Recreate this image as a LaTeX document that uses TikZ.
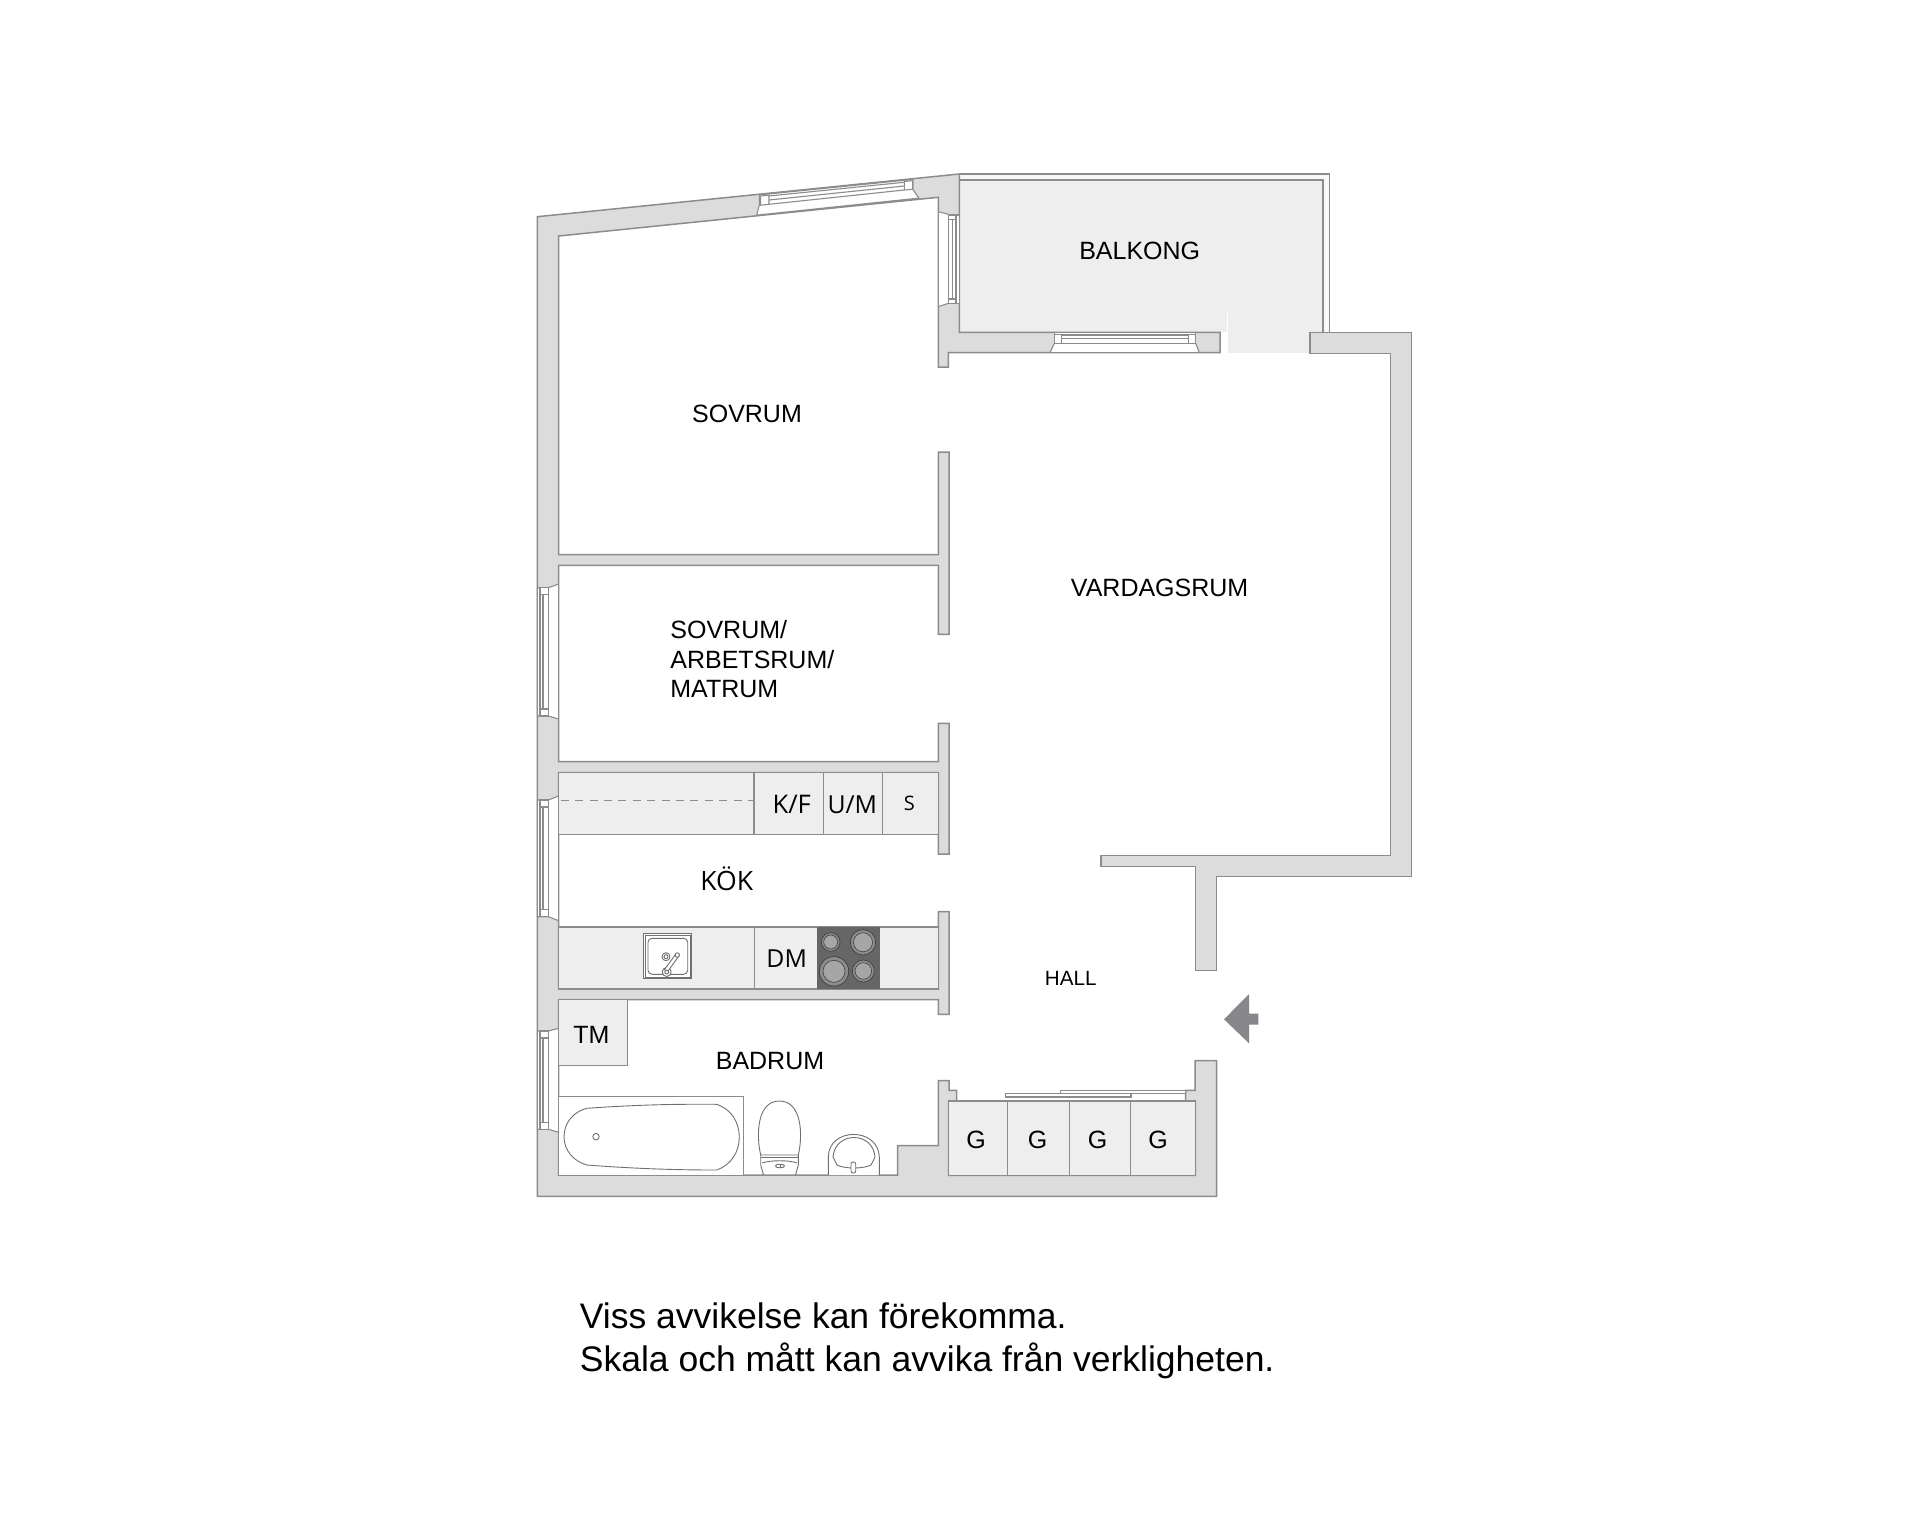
\documentclass[tikz,border=0pt]{standalone}
\usepackage{fontspec}
\setmainfont{Liberation Sans}
\newfontfamily\opensans{Open Sans}
\definecolor{wallfill}{HTML}{DCDCDC}
\definecolor{benchfill}{HTML}{EEEEEE}
\definecolor{linegray}{HTML}{8C8C8C}
\definecolor{hobfill}{HTML}{666666}
\definecolor{burnerfill}{HTML}{A6A6A6}
\definecolor{arrowfill}{HTML}{87878B}
\tikzset{
  wall/.style={fill=wallfill,draw=linegray,line width=0.75pt,line join=miter},
  bench/.style={fill=benchfill,draw=linegray,line width=0.7pt},
  fixture/.style={draw=linegray!80!black,line width=0.45pt,fill=white},
  winpart/.style={fill=white,draw=linegray,line width=0.55pt},
  winline/.style={draw=linegray,line width=0.55pt},
  lab/.style={inner sep=0pt,anchor=base,text=black,font=\fontsize{12.5}{14}\selectfont},
  labos/.style={lab,font=\opensans\fontsize{12.4}{14}\selectfont},
  labg/.style={lab,font=\fontsize{12.5}{14}\selectfont},
  labnote/.style={inner sep=0pt,anchor=base west,text=black,font=\fontsize{17.75}{20}\selectfont},
}
\newcommand{\sidewindow}[4]{%
  \path[fill=white] (558.7,#1) -- (548.3,#2) -- (537.3,#2) -- (537.3,#3) -- (548.3,#3) -- (558.7,#4) -- cycle;
  \draw[winline] (558.7,#1) -- (548.3,#2) -- (537.3,#2) -- (537.3,#3) -- (548.3,#3) -- (558.7,#4);
  \draw[winline] (558.7,#1) -- (558.7,#4);
  \draw[winpart] (540,#2) rectangle (548.3,#3);
  \draw[winline] (543,#2) -- (543,#3);
  \draw[winpart] (540,#2) rectangle (548.3,{#2+7});
  \draw[winpart] (540,{#3-7}) rectangle (548.3,#3);
}
\begin{document}
\begin{tikzpicture}[x=0.5pt,y=-0.5pt]
\useasboundingbox[fill=white] (0,0) rectangle (1920,1514);
% balcony
\path[fill=benchfill] (959.3,180) rectangle (1323,332.3);
\path[fill=benchfill] (1227.7,313) rectangle (1310,353);
\draw[white,line width=0.4pt] (1227.7,313) -- (1227.7,353);
\draw[fill=white!60!benchfill,draw=linegray,line width=0.75pt] (959.3,174) -- (1329.3,174) -- (1329.3,332.3) -- (1323,332.3) -- (1323,180) -- (959.3,180) -- cycle;
% right wall
\draw[wall] (1310,332.3) -- (1411.7,332.3) -- (1411.7,876.7) -- (1216.7,876.7) -- (1216.7,970.3) -- (1195.3,970.3) -- (1195.3,866.3) -- (1101,866.3) -- (1101,855.7) -- (1390.7,855.7) -- (1390.7,353.3) -- (1310,353.3) -- cycle;
% main walls
\draw[wall] (1220,332.3) -- (959.3,332.3) -- (959.3,174) -- (537.3,216.7) -- (537.3,1196.3) -- (1216.7,1196.3) -- (1216.7,1060.7) -- (1195,1060.7) -- (1195,1090.3) -- (1185.7,1090.3) -- (1185.7,1101) -- (1195.3,1101) -- (1195.3,1175.3) -- (948.7,1175.3) -- (948.7,1101) -- (956.7,1101) -- (956.7,1090.3) -- (949,1090.3) -- (949,1080.7) -- (938.3,1080.7) -- (938.3,1145.7) -- (897.7,1145.7) -- (897.7,1175) -- (558.7,1175) -- (558.7,999.7) -- (938.3,999.7) -- (938.3,1014.3) -- (949,1014.3) -- (949,911.7) -- (938.3,911.7) -- (938.3,989) -- (558.7,989) -- (558.7,772.7) -- (938.3,772.7) -- (938.3,854) -- (949,854) -- (949,723.3) -- (938.3,723.3) -- (938.3,761.7) -- (558.7,761.7) -- (558.7,565.3) -- (938.3,565.3) -- (938.3,634.3) -- (949,634.3) -- (949,452) -- (938.3,452) -- (938.3,554.7) -- (558.7,554.7) -- (558.7,236) -- (938.3,197.3) -- (938.3,367) -- (948.3,367) -- (948.3,352.7) -- (1220,352.7) -- cycle;
% kitchen benches
\draw[bench] (558.7,772.7) rectangle (938.3,834.7);
\draw[bench] (754,772.7) -- (754,834.7) (823.7,772.7) -- (823.7,834.7) (882.3,772.7) -- (882.3,834.7);
\draw[linegray,line width=0.55pt,dash pattern=on 4pt off 3.2pt] (560.7,800.7) -- (753.3,800.7);
\draw[bench] (558.7,927) rectangle (938.3,989);
\draw[bench] (754.3,927) -- (754.3,989);
% hob
\path[fill=hobfill] (817,927) rectangle (879.7,989);
\foreach \cx/\cy/\r in {830.7/942/9.3,863/942.3/12.7,834/971.3/14.7,863.3/971/11}{
  \draw[fill=black!45,draw=black!75,line width=0.35pt] (\cx,\cy) circle ({\r});
  \draw[fill=burnerfill,draw=black!75,line width=0.3pt] (\cx,\cy) circle ({\r*0.75});
}
% kitchen sink
\draw[fixture] (643.3,933.3) rectangle (691.7,978.7);
\draw[fixture] (645,935) rectangle (690,977);
\draw[fixture,rounded corners=2pt] (648,938.3) rectangle (687.7,974.3);
\draw[fixture] (666,956.7) circle (4);
\draw[fixture] (666,956.7) circle (2);
\draw[fixture] (666.7,972) circle (4.5);
\draw[fixture] (666.7,972) circle (2);
\draw[fixture] (664.5,969.5) -- (675.5,954.5) -- (678.5,956.5) -- (668,971) -- cycle;
\draw[fixture] (677.3,955) circle (2.2);
% bathroom storage and tub
\draw[bench] (558.7,999.7) rectangle (627.3,1065.7);
\draw[line width=0.65pt,draw=linegray,fill=white] (558.7,1175) -- (558.7,1096.7) -- (743.7,1096.7) -- (743.7,1175);
\draw[fixture] (586.7,1108.3) .. controls (640,1104.5) and (680,1104) .. (716.7,1104.3) .. controls (731,1109) and (739.3,1122) .. (739.3,1137) .. controls (739.3,1152) and (731,1165) .. (716.7,1170) .. controls (680,1170) and (640,1169) .. (586.7,1165) .. controls (573,1161) and (564,1150) .. (564,1136.7) .. controls (564,1123) and (573,1112) .. (586.7,1108.3) -- cycle;
\draw[fixture] (596,1136.7) circle (3.2);
% toilet
\draw[fixture] (760.7,1155) .. controls (756,1135) and (757,1101) .. (779.3,1101) .. controls (802,1101) and (803,1135) .. (798.3,1155) -- cycle;
\draw[fixture] (760.7,1155) -- (760.7,1165) -- (763.5,1175) (798.3,1155) -- (798.3,1165) -- (795.5,1175);
\draw[fixture] (761,1157.5) -- (798,1157.5);
\draw[fixture] (762,1163) .. controls (770,1160) and (790,1160) .. (797,1163);
\draw[fixture] (780,1166) ellipse (4.5 and 1.8);
\draw[fixture] (780,1164.2) -- (780,1167.8);
% wash basin
\draw[fixture] (828.3,1175) -- (828.3,1156.7) .. controls (829,1127) and (878,1127) .. (879.3,1156.7) -- (879.3,1175);
\draw[fixture,fill=none] (833,1157) .. controls (835,1131) and (873,1131) .. (875,1157);
\draw[fixture,fill=none] (833,1157) -- (837,1165) .. controls (845,1169) and (863,1169) .. (871,1165) -- (875,1157);
\draw[fixture,rounded corners=1pt] (851,1162) rectangle (855.7,1173);
% closets
\draw[bench] (948.7,1101) rectangle (1195.3,1175.3);
\draw[bench] (1007.7,1101) -- (1007.7,1175.3) (1069.3,1101) -- (1069.3,1175.3) (1130.7,1101) -- (1130.7,1175.3);
\draw[winpart] (1060.7,1090.3) rectangle (1185.7,1093.7);
\draw[winpart] (1005.3,1093.5) rectangle (1131,1097);
% left windows
\sidewindow{584}{587.7}{716}{719}
\sidewindow{796}{800}{916.7}{920.7}
\sidewindow{1028.3}{1031}{1129.3}{1132.3}
% top window
\path[fill=white] (759.3,194.7) -- (912.7,179.3) -- (912.7,189.3) -- (919,198.3) -- (756.7,215.3) -- (759.3,205) -- cycle;
\draw[winline] (759.3,194.7) -- (759.3,205) -- (756.7,215.3) (912.7,179.3) -- (912.7,189.3) -- (919,198.3);
\draw[winline] (769,196) -- (904.3,182.3) (769,200) -- (904.3,186) (769,204.3) -- (904.3,190);
\draw[winpart] (760.5,196) -- (769,195.2) -- (769,204.3) -- (760.5,205.2) -- cycle;
\draw[winpart] (904.3,181.5) -- (912.7,180.7) -- (912.7,189.3) -- (904.3,190) -- cycle;
\draw[line width=0.75pt,draw=linegray] (756.7,215.3) -- (919,198.3);
\draw[line width=0.75pt,draw=linegray] (759.3,194.7) -- (912.7,179.3);
% balcony side window
\path[fill=white] (938.3,211.7) -- (948.3,214.3) -- (948.3,303.3) -- (938.3,306.7) -- cycle;
\draw[winline] (938.3,211.7) -- (948.3,214.3) (938.3,306.7) -- (948.3,303.3);
\draw[line width=0.75pt,draw=linegray] (938.3,211.7) -- (938.3,306.7);
\draw[winpart] (948.3,215) rectangle (959.3,303.3);
\draw[winline] (952.7,219.3) -- (952.7,299) (956,219.3) -- (956,299);
\draw[winpart] (948.3,215) rectangle (956,219.3);
\draw[winpart] (948.3,299) rectangle (956,303.3);
% living room window
\path[fill=white] (1054.3,332.3) rectangle (1195.7,343.3);
\path[fill=white] (1054.3,343.3) -- (1195.7,343.3) -- (1199.3,352.7) -- (1050,352.7) -- cycle;
\draw[winline] (1054.3,343.3) -- (1050,352.7) (1195.7,343.3) -- (1199.3,352.7);
\draw[line width=0.75pt,draw=linegray] (1050,352.7) -- (1199.3,352.7);
\draw[winpart] (1054.3,332.3) rectangle (1195.7,343.3);
\draw[winline] (1061.7,335) -- (1188.3,335) (1061.7,338.7) -- (1188.3,338.7);
\draw[winpart] (1054.3,334.7) rectangle (1061.7,343.3);
\draw[winpart] (1188.3,334.7) rectangle (1195.7,343.3);
% entry arrow
\path[fill=arrowfill] (1224,1019.3) -- (1249,994) -- (1249,1013.7) -- (1258.3,1013.7) -- (1258.3,1024.7) -- (1249,1024.7) -- (1249,1043.3) -- cycle;
% labels
\node[lab] (balkong) at (1139.7,259) {BALKONG};
\node[lab] (sovrum) at (747,422.5) {SOVRUM};
\node[lab] (vardagsrum) at (1159.6,596) {VARDAGSRUM};
\node[lab,anchor=base west] (sovrumb) at (670,638.3) {SOVRUM/};
\node[lab,anchor=base west] (arbetsrum) at (670,668.3) {ARBETSRUM/};
\node[lab,anchor=base west] (matrum) at (670,697.7) {MATRUM};
\node[labos,font=\opensans\fontsize{13.3}{15}\selectfont] (kok) at (726.7,890.7) {KÖK};
\node[labos,font=\opensans\fontsize{12.8}{15}\selectfont] (kf) at (791.7,813.3) {K/F};
\node[labos] (um) at (852.3,813.3) {U/M};
\node[labos,font=\opensans\fontsize{10}{12}\selectfont] (s) at (909.3,810) {S};
\node[labos] (dm) at (786.7,967.7) {DM};
\node[lab] (tm) at (591.3,1043.3) {TM};
\node[lab] (badrum) at (770,1069) {BADRUM};
\node[lab,font=\fontsize{10.3}{13}\selectfont] (hall) at (1070.7,985.7) {HALL};
\node[labg] (ga) at (976,1148.3) {G};
\node[labg] (gb) at (1037.7,1148.3) {G};
\node[labg] (gc) at (1097.7,1148.3) {G};
\node[labg] (gd) at (1158,1148.3) {G};
\node[labnote] (noteone) at (579.5,1328.6) {Viss avvikelse kan förekomma.};
\node[labnote] (notetwo) at (579.5,1371.5) {Skala och mått kan avvika från verkligheten.};
\end{tikzpicture}
\end{document}
